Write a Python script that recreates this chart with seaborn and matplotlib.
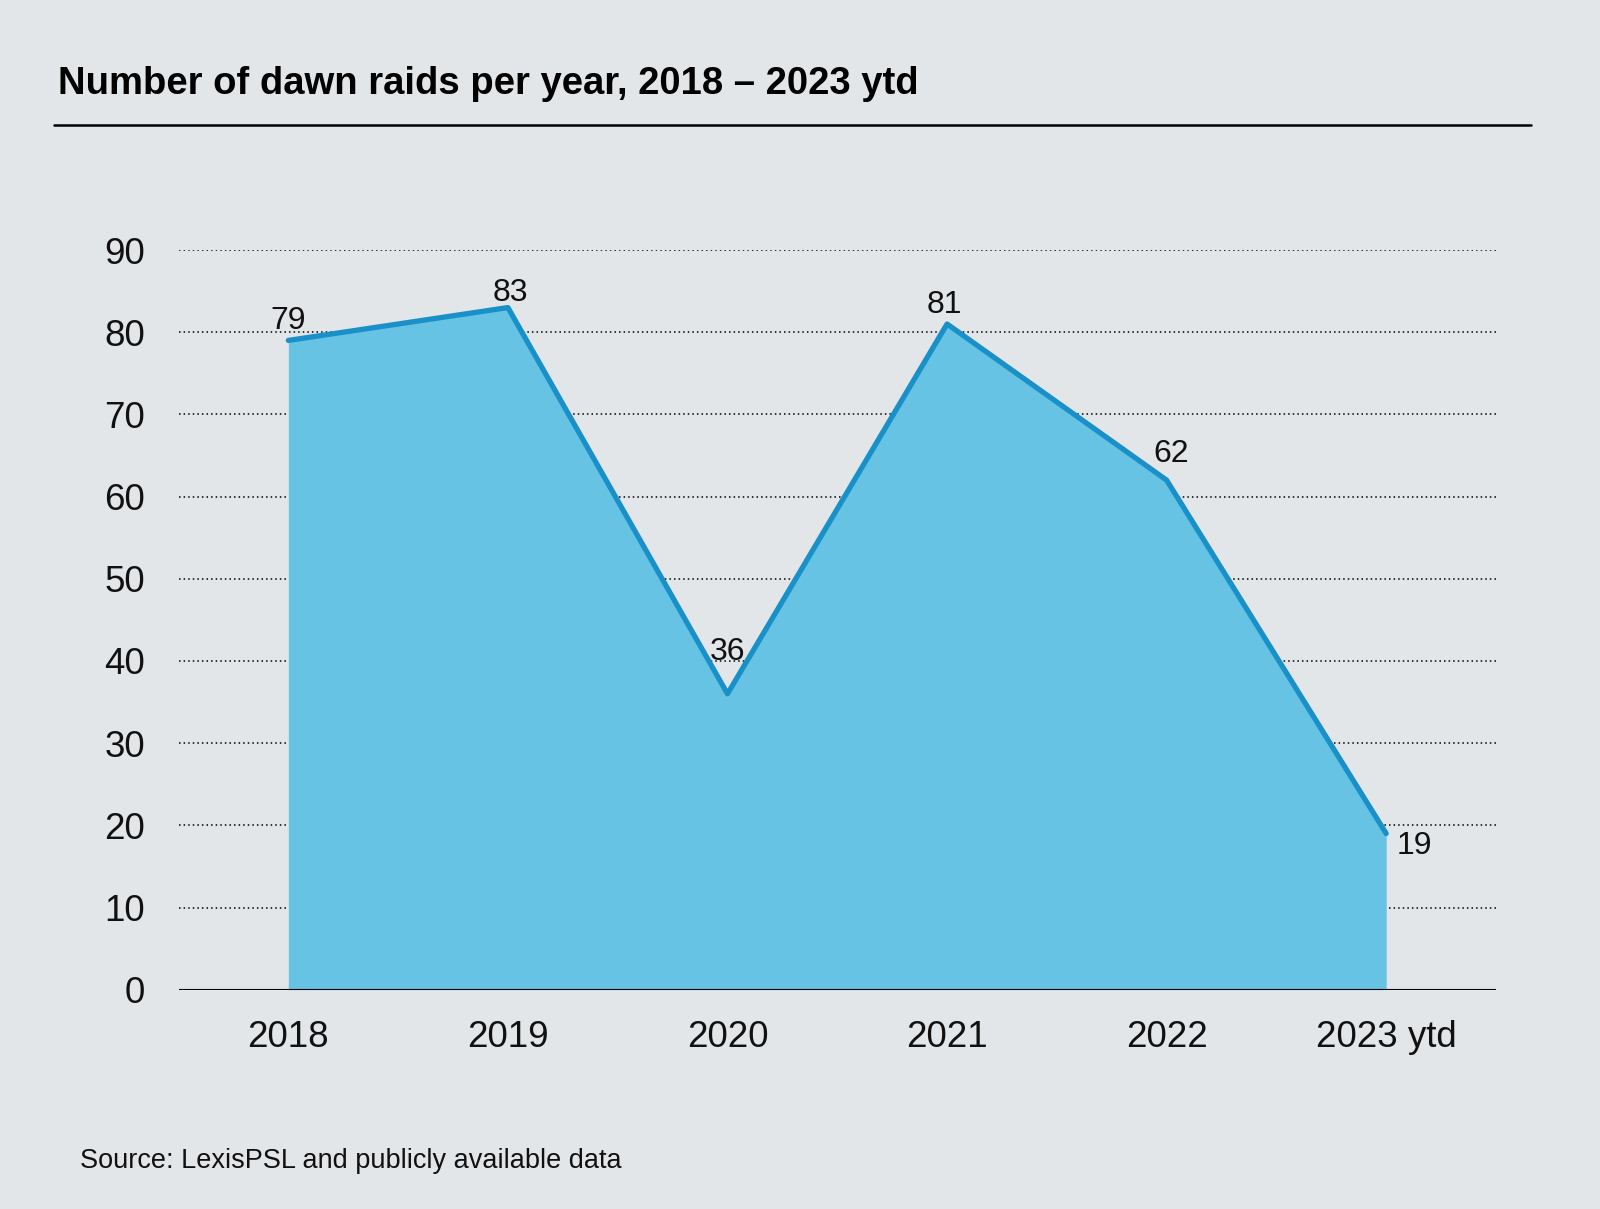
import matplotlib
matplotlib.use("Agg")
import matplotlib.pyplot as plt
import pandas as pd
import seaborn as sns

years = ["2018", "2019", "2020", "2021", "2022", "2023 ytd"]
raids = [79, 83, 36, 81, 62, 19]
y_ticks = [0, 10, 20, 30, 40, 50, 60, 70, 80, 90]

df = pd.DataFrame({"year": years, "raids": raids})
df["pos"] = range(len(df))

bg = "#e3e6e9"
fill_col = "#66c3e3"
line_col = "#1991c8"

sns.set_theme(style="white")
plt.rcParams["font.family"] = ["Liberation Sans", "DejaVu Sans"]

fig = plt.figure(figsize=(16, 12.09), dpi=100, facecolor=bg)
ax = fig.add_axes([0.1116, 0.1814, 0.8234, 0.6118])
ax.set_facecolor(bg)

# area + outline
ax.fill_between(df["pos"], 0, df["raids"], color=fill_col, linewidth=0, zorder=2)
sns.lineplot(data=df, x="pos", y="raids", color=line_col, linewidth=3.8, ax=ax, zorder=3)

ax.set_xlim(-0.5, 5.5)
ax.set_ylim(0, 90)
ax.set_yticks(y_ticks)
ax.set_xticks(df["pos"])
ax.set_xticklabels(years)
ax.set_xlabel("")
ax.set_ylabel("")

# dotted gridlines
for t in y_ticks[1:]:
    ax.axhline(t, color="black", linestyle=(0, (1, 2)), linewidth=1.1, zorder=1)
ax.axhline(0, color="black", linewidth=1.5, zorder=4)

for s in ax.spines.values():
    s.set_visible(False)
ax.tick_params(axis="both", length=0, labelsize=26.5, colors="#111111")
ax.tick_params(axis="y", pad=24)
ax.tick_params(axis="x", pad=22)

# value labels
offsets = [(0, 3), (2, 0), (0, 19), (-2, 3), (3, 8), (20, -9)]
for i, (p, v) in enumerate(zip(df["pos"], df["raids"])):
    ax.annotate(str(v), (p, v), xytext=offsets[i], textcoords="offset points",
                ha="center", va="bottom" if i < 5 else "center",
                fontsize=23, color="#111111", zorder=5, annotation_clip=False)

# title, rule, source
fig.text(0.036, 0.922, "Number of dawn raids per year, 2018 \u2013 2023 ytd",
         fontsize=27.5, fontweight="bold", color="black",
         family=["Liberation Sans Narrow", "Liberation Sans", "DejaVu Sans"])
fig.add_artist(plt.Line2D([0.034, 0.957], [0.897, 0.897], color="black", linewidth=1.8))
fig.text(0.05, 0.034, "Source: LexisPSL and publicly available data",
         fontsize=19.5, color="#111111")

fig.savefig("out.png", dpi=100, facecolor=bg)
